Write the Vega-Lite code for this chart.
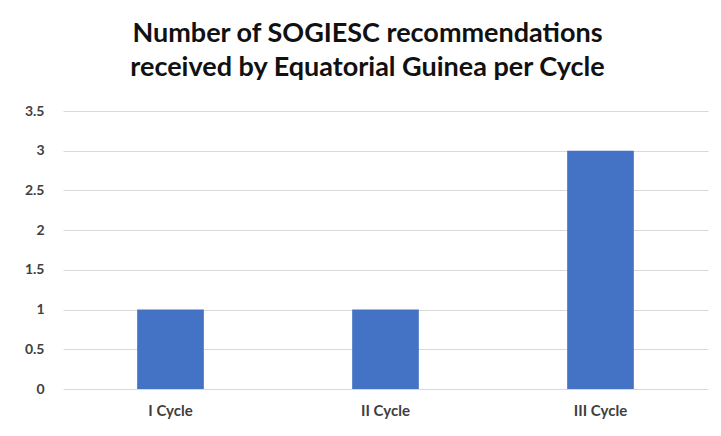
{
  "$schema": "https://vega.github.io/schema/vega-lite/v6.json",
  "autosize": "none",
  "width": 645,
  "height": 278,
  "padding": {"left": 63, "top": 111, "right": 13, "bottom": 47},
  "background": "white",
  "title": {
    "text": ["Number of SOGIESC recommendations", "received by Equatorial Guinea per Cycle"],
    "font": "Lato",
    "fontSize": 27,
    "fontWeight": "bold",
    "color": "#111111",
    "anchor": "middle",
    "frame": "group",
    "dx": -18,
    "offset": 22,
    "lineHeight": 34
  },
  "data": {
    "values": [
      {"cycle": "I Cycle", "count": 1},
      {"cycle": "II Cycle", "count": 1},
      {"cycle": "III Cycle", "count": 3}
    ]
  },
  "mark": {"type": "bar", "color": "#4472C4"},
  "encoding": {
    "x": {
      "field": "cycle",
      "type": "nominal",
      "sort": null,
      "title": null,
      "scale": {"paddingInner": 0.69, "paddingOuter": 0.345},
      "axis": {
        "labelAngle": 0,
        "labelFont": "Lato",
        "labelFontSize": 15,
        "labelFontWeight": "bold",
        "labelColor": "#404040",
        "labelPadding": 14,
        "ticks": false,
        "domain": false
      }
    },
    "y": {
      "field": "count",
      "type": "quantitative",
      "title": null,
      "scale": {"domain": [0, 3.5]},
      "axis": {
        "values": [0, 0.5, 1, 1.5, 2, 2.5, 3, 3.5],
        "format": "~g",
        "labelFont": "Lato",
        "labelFontSize": 14,
        "labelFontWeight": "bold",
        "labelColor": "#404040",
        "labelPadding": 19,
        "ticks": false,
        "domain": false,
        "gridColor": "#d9d9d9",
        "gridWidth": 1
      }
    }
  },
  "config": {"view": {"stroke": null}}
}
